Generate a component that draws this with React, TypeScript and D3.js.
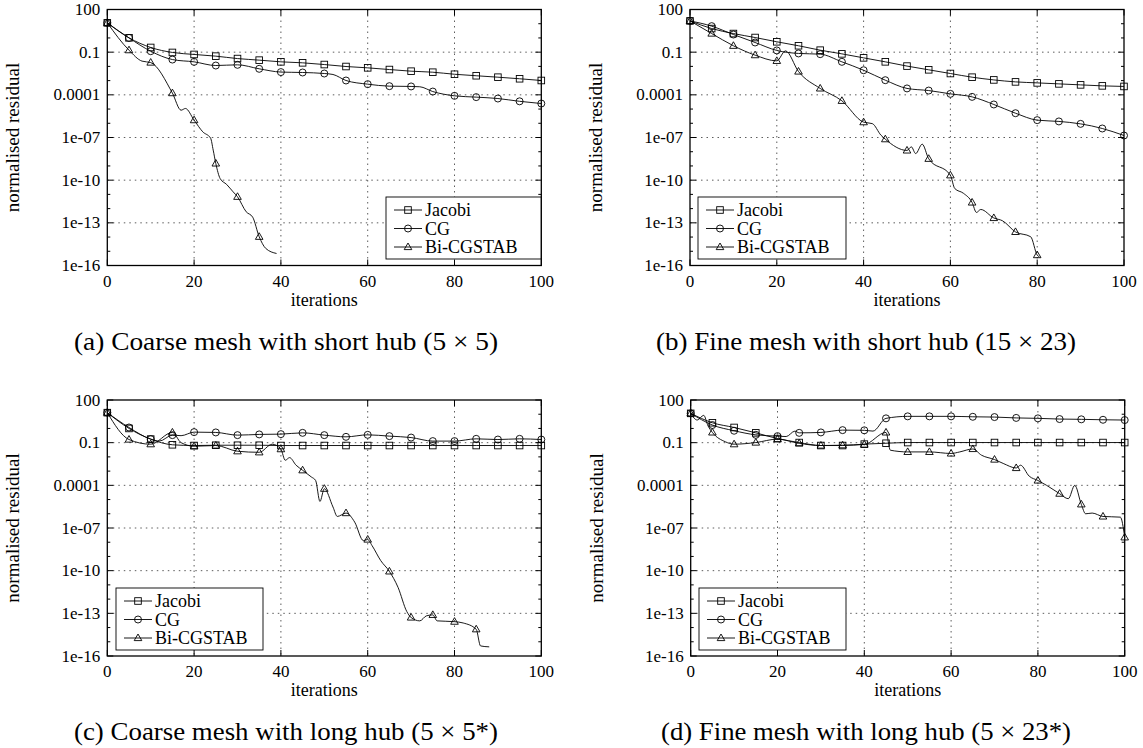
import React, { useEffect, useRef } from 'react';
import * as d3 from 'd3';

type Pt = [number, number];

const xTicks = [0, 20, 40, 60, 80, 100];
const yTicks = [1e2, 1e-1, 1e-4, 1e-7, 1e-10, 1e-13, 1e-16];
const yTickLabels = ['100', '0.1', '0.0001', '1e-07', '1e-10', '1e-13', '1e-16'];
const seriesNames = ['Jacobi', 'CG', 'Bi-CGSTAB'];
const captions = [
  '(a) Coarse mesh with short hub (5 × 5)',
  '(b) Fine mesh with short hub (15 × 23)',
  '(c) Coarse mesh with long hub (5 × 5*)',
  '(d) Fine mesh with long hub (5 × 23*)',
];

// (a) coarse mesh, short hub
const aJacobi: Pt[] = [[0, 11.5], [5, 1.02], [10, 0.214], [15, 0.0955], [20, 0.0692], [25, 0.0525], [30, 0.0355], [35, 0.0275], [40, 0.0209], [45, 0.0178], [50, 0.0135], [55, 0.0098], [60, 0.0079], [65, 0.006], [70, 0.0046], [75, 0.0039], [80, 0.0028], [85, 0.0022], [90, 0.00174], [95, 0.00135], [100, 0.00102]];
const aCG: Pt[] = [[0, 11.5], [5, 1.0], [10, 0.117], [15, 0.0302], [20, 0.0209], [25, 0.0115], [30, 0.0129], [35, 0.00676], [40, 0.00398], [45, 0.00372], [50, 0.00316], [52, 0.0027], [55, 0.00102], [60, 0.000562], [65, 0.000407], [70, 0.000389], [72, 0.00037], [75, 0.00017], [80, 8.5e-5], [85, 6.9e-5], [90, 5.5e-5], [95, 3.5e-5], [100, 2.45e-5]];
const aBicg: Pt[] = [[0, 11.5], [5, 0.138], [8, 0.0234], [10, 0.0186], [15, 1.32e-4], [17, 8.3e-6], [18, 1.1e-5], [20, 1.66e-6], [22, 2.5e-7], [23.8, 9e-8], [24.4, 1.3e-8], [25, 1.5e-9], [26, 1.3e-10], [27.5, 5e-11], [29, 1.5e-11], [30, 6.8e-12], [32, 6e-13], [33.5, 2.5e-13], [35, 1.05e-14], [36.5, 1.6e-15], [39, 7e-16]];

// (b) fine mesh, short hub
const bJacobi: Pt[] = [[0, 15.8], [5, 4.57], [10, 2.04], [15, 1.07], [20, 0.537], [25, 0.282], [30, 0.138], [35, 0.0759], [40, 0.0398], [45, 0.0209], [50, 0.0105], [55, 0.00575], [60, 0.00316], [65, 0.00174], [70, 0.00112], [75, 0.000813], [80, 0.000692], [85, 0.000589], [90, 0.000501], [95, 0.000427], [100, 0.000389]];
const bCG: Pt[] = [[0, 15.8], [5, 6.76], [10, 1.74], [15, 0.479], [20, 0.132], [25, 0.0813], [30, 0.0724], [35, 0.0209], [40, 0.00537], [45, 0.00107], [50, 0.000282], [55, 0.0002], [60, 0.000117], [65, 7.2e-5], [70, 2.1e-5], [75, 5.1e-6], [80, 1.66e-6], [85, 1.35e-6], [90, 9.1e-7], [95, 4.3e-7], [100, 1.38e-7]];
const bBicg: Pt[] = [[0, 15.8], [5, 2.04], [10, 0.282], [15, 0.0617], [20, 0.0245], [22, 0.123], [25, 0.00437], [30, 0.000282], [35, 3.8e-5], [40, 1.2e-6], [42, 9.5e-7], [44, 1.45e-7], [45, 7.6e-8], [50, 1.23e-8], [51, 2.2e-8], [52, 7.4e-9], [53.5, 3.4e-8], [55, 3.2e-9], [60, 2.2e-10], [61, 2.6e-11], [63, 1.2e-11], [65, 2.7e-12], [66, 5.4e-13], [67, 8.7e-13], [70, 2.2e-13], [72, 1.4e-13], [75, 2.3e-14], [78.5, 1.05e-14], [80, 5.4e-16], [80.5, 4e-16]];

// (c) coarse mesh, long hub
const cJacobi: Pt[] = [[0, 12.9], [5, 1.0], [10, 0.178], [15, 0.071], [20, 0.063], [25, 0.066], [30, 0.066], [35, 0.066], [40, 0.063], [45, 0.063], [50, 0.063], [55, 0.063], [60, 0.063], [65, 0.063], [70, 0.063], [75, 0.063], [80, 0.063], [85, 0.063], [90, 0.063], [95, 0.063], [100, 0.063]];
const cCG: Pt[] = [[0, 12.9], [5, 1.17], [10, 0.178], [12, 0.129], [15, 0.339], [17, 0.31], [20, 0.55], [25, 0.525], [30, 0.339], [35, 0.38], [40, 0.398], [45, 0.49], [50, 0.339], [55, 0.257], [60, 0.355], [65, 0.288], [70, 0.229], [75, 0.129], [80, 0.129], [85, 0.186], [90, 0.166], [95, 0.186], [100, 0.166]];
const cBicg: Pt[] = [[0, 12.9], [5, 0.166], [10, 0.078], [15, 0.525], [17, 0.1], [20, 0.056], [25, 0.063], [30, 0.025], [35, 0.021], [38, 0.078], [40, 0.035], [41, 0.0058], [42, 0.0089], [43.5, 0.0026], [45, 0.00115], [47, 0.00039], [48, 0.00022], [49, 7.4e-6], [50, 5.8e-5], [52, 3e-6], [53, 6.5e-7], [55, 1.12e-6], [57, 2.6e-7], [59, 1.3e-8], [60, 1.55e-8], [61, 5.8e-9], [63, 5.1e-10], [65, 8.9e-11], [67, 6.6e-12], [69, 1.35e-13], [70, 5.1e-14], [72, 2.95e-14], [73.5, 6.6e-14], [75, 7.8e-14], [76, 2.95e-14], [80, 2.6e-14], [82, 2.1e-14], [85, 7.6e-15], [86, 5.1e-16], [88, 4.4e-16]];

// (d) fine mesh, long hub
const dJacobi: Pt[] = [[0, 11.5], [5, 2.51], [10, 1.17], [15, 0.49], [20, 0.195], [25, 0.102], [30, 0.063], [35, 0.063], [40, 0.079], [45, 0.091], [50, 0.102], [55, 0.102], [60, 0.102], [65, 0.102], [70, 0.102], [75, 0.102], [80, 0.102], [85, 0.102], [90, 0.102], [95, 0.102], [100, 0.102]];
const dCG: Pt[] = [[0, 11.5], [5, 1.74], [10, 0.69], [15, 0.355], [20, 0.288], [22, 0.27], [24, 0.646], [25, 0.49], [30, 0.525], [35, 0.76], [40, 0.74], [42, 0.65], [45, 5.13], [50, 7.08], [55, 7.08], [60, 7.08], [65, 6.6], [70, 6.3], [75, 5.5], [80, 5.13], [85, 4.57], [90, 4.37], [95, 4.07], [100, 3.89]];
const dBicg: Pt[] = [[0, 11.5], [1.5, 3.9], [3, 8.3], [4, 1.5], [5, 0.525], [8, 0.115], [10, 0.078], [15, 0.102], [20, 0.178], [25, 0.089], [30, 0.063], [35, 0.066], [40, 0.074], [45, 0.525], [46, 0.0295], [50, 0.0224], [55, 0.0224], [60, 0.0174], [62, 0.0224], [65, 0.036], [67, 0.0132], [70, 0.0065], [72, 0.00347], [75, 0.00166], [76, 0.0026], [78, 0.00044], [80, 0.00022], [82, 0.0001], [85, 2.6e-5], [87, 1.15e-5], [88.5, 1e-4], [90, 4.6e-6], [91, 1e-6], [92.5, 1.12e-6], [95, 6.5e-7], [99, 5.8e-7], [100, 2.2e-8]];

const W = 1143;
const H = 748;
const PW = 434;
const PH = 256;
const FONT = "'Liberation Serif', 'Times New Roman', 'DejaVu Serif', 'Noto Serif', serif";

const panels = [
  { left: 107.3, top: 9.5, data: [aJacobi, aCG, aBicg], legend: { x: 386, y: 197, w: 155 }, capX: 286, capW: 424 },
  { left: 690, top: 9.5, data: [bJacobi, bCG, bBicg], legend: { x: 698, y: 197, w: 148 }, capX: 866, capW: 420 },
  { left: 107.3, top: 400, data: [cJacobi, cCG, cBicg], legend: { x: 116, y: 588, w: 147 }, capX: 286, capW: 424 },
  { left: 690.7, top: 400, data: [dJacobi, dCG, dBicg], legend: { x: 699, y: 588, w: 147 }, capX: 866, capW: 410 },
];

function marker(g: any, kind: number, cx: number, cy: number) {
  if (kind === 0) {
    g.append('rect').attr('x', cx - 3.3).attr('y', cy - 3.3).attr('width', 6.6).attr('height', 6.6)
      .attr('fill', 'none').attr('stroke', '#000').attr('stroke-width', 0.9);
  } else if (kind === 1) {
    g.append('circle').attr('cx', cx).attr('cy', cy).attr('r', 3.5)
      .attr('fill', 'none').attr('stroke', '#000').attr('stroke-width', 0.9);
  } else {
    g.append('path').attr('d', `M${cx},${cy - 4}L${cx + 3.8},${cy + 2.6}L${cx - 3.8},${cy + 2.6}Z`)
      .attr('fill', 'none').attr('stroke', '#000').attr('stroke-width', 0.9);
  }
}

export default function App() {
  const ref = useRef<SVGSVGElement>(null);

  useEffect(() => {
    const svg = d3.select(ref.current);
    svg.selectAll('*').remove();

    panels.forEach((p, i) => {
      const x = d3.scaleLinear().domain([0, 100]).range([p.left, p.left + PW]);
      const y = d3.scaleLog().domain([1e-16, 100]).range([p.top + PH, p.top]);
      const g = svg.append('g');

      // grid
      xTicks.slice(1, -1).forEach(t => {
        g.append('line').attr('x1', x(t)).attr('x2', x(t)).attr('y1', p.top).attr('y2', p.top + PH)
          .attr('stroke', '#333').attr('stroke-width', 0.8).attr('stroke-dasharray', '1.5,4');
      });
      yTicks.slice(1, -1).forEach(t => {
        g.append('line').attr('x1', p.left).attr('x2', p.left + PW).attr('y1', y(t)).attr('y2', y(t))
          .attr('stroke', '#333').attr('stroke-width', 0.8).attr('stroke-dasharray', '1.5,4');
      });

      // ticks: major every 3 decades, minor every decade
      d3.range(-16, 3).forEach(e => {
        const yy = y(Math.pow(10, e));
        const len = (e + 16) % 3 === 0 ? 6 : 3;
        g.append('line').attr('x1', p.left).attr('x2', p.left + len).attr('y1', yy).attr('y2', yy).attr('stroke', '#000');
        g.append('line').attr('x1', p.left + PW).attr('x2', p.left + PW - len).attr('y1', yy).attr('y2', yy).attr('stroke', '#000');
      });
      xTicks.forEach(t => {
        g.append('line').attr('x1', x(t)).attr('x2', x(t)).attr('y1', p.top + PH).attr('y2', p.top + PH - 6).attr('stroke', '#000');
        g.append('line').attr('x1', x(t)).attr('x2', x(t)).attr('y1', p.top).attr('y2', p.top + 6).attr('stroke', '#000');
      });

      // tick labels
      yTicks.forEach((t, k) => {
        g.append('text').attr('x', p.left - 7).attr('y', y(t) + 5.5).attr('text-anchor', 'end')
          .style('font-family', FONT).style('font-size', '17px').text(yTickLabels[k]);
      });
      xTicks.forEach(t => {
        g.append('text').attr('x', x(t)).attr('y', p.top + PH + 21).attr('text-anchor', 'middle')
          .style('font-family', FONT).style('font-size', '17px').text(String(t));
      });
      g.append('text').attr('x', x(50)).attr('y', p.top + PH + 40).attr('text-anchor', 'middle')
        .style('font-family', FONT).style('font-size', '18px').text('iterations');
      g.append('text').attr('transform', `translate(${p.left - 88},${p.top + PH / 2}) rotate(-90)`)
        .attr('text-anchor', 'middle').style('font-family', FONT).style('font-size', '19px').text('normalised residual');

      // series
      const line = d3.line<Pt>().x(d => x(d[0])).y(d => y(d[1])).curve(d3.curveMonotoneX);
      p.data.forEach((s, k) => {
        g.append('path').attr('d', line(s) as string).attr('fill', 'none').attr('stroke', '#000').attr('stroke-width', 0.9);
        s.filter(d => d[0] % 5 === 0).forEach(d => marker(g, k, x(d[0]), y(d[1])));
      });

      // frame
      g.append('rect').attr('x', p.left).attr('y', p.top).attr('width', PW).attr('height', PH)
        .attr('fill', 'none').attr('stroke', '#000').attr('stroke-width', 1.3);

      // legend
      const lg = g.append('g').attr('transform', `translate(${p.legend.x},${p.legend.y})`);
      lg.append('rect').attr('width', p.legend.w).attr('height', 62).attr('fill', '#fff')
        .attr('stroke', '#000').attr('stroke-width', 0.9);
      seriesNames.forEach((n, k) => {
        const ly = 13 + k * 18.5;
        lg.append('line').attr('x1', 8).attr('x2', 36).attr('y1', ly).attr('y2', ly).attr('stroke', '#000').attr('stroke-width', 0.9);
        marker(lg, k, 22, ly);
        lg.append('text').attr('x', 39).attr('y', ly + 6).style('font-family', FONT).style('font-size', '18px').text(n);
      });

      // caption
      svg.append('text').attr('x', p.capX).attr('y', p.top + PH + 84).attr('text-anchor', 'middle')
        .attr('textLength', p.capW).attr('lengthAdjust', 'spacingAndGlyphs')
        .style('font-family', FONT).style('font-size', '25px').text(captions[i]);
    });
  }, []);

  return (
    <svg ref={ref} width={W} height={H} style={{ position: 'absolute', left: 0, top: 0, background: '#fff' }} />
  );
}
